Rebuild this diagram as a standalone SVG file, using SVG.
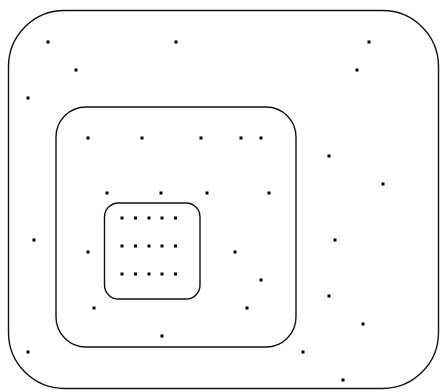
<svg xmlns="http://www.w3.org/2000/svg" width="440" height="392" viewBox="0 0 440 392">
<style>
.r{fill:none;stroke:#111;stroke-width:1.4}
.d{fill:#000}
</style>
<defs><rect id="p" x="-1.5" y="-1.5" width="3" height="3" class="d"/></defs>
<rect x="0" y="0" width="440" height="392" fill="#fff"/>
<g id="regions">
<rect class="r" x="8.5" y="10.5" width="430" height="378" rx="56" ry="56"/>
<rect class="r" x="56" y="107" width="240" height="240" rx="30" ry="30"/>
<rect class="r" x="104.5" y="203" width="95.5" height="96" rx="14" ry="14"/>
</g>
<g id="dots">
<use href="#p" x="48" y="42"/><use href="#p" x="176" y="42"/><use href="#p" x="369" y="42"/>
<use href="#p" x="76" y="70"/><use href="#p" x="357" y="70"/>
<use href="#p" x="28" y="98"/>
<use href="#p" x="88" y="138"/><use href="#p" x="142" y="138"/><use href="#p" x="201" y="138"/><use href="#p" x="241" y="138"/><use href="#p" x="261" y="138"/>
<use href="#p" x="329" y="156"/><use href="#p" x="383" y="184"/>
<use href="#p" x="107" y="193"/><use href="#p" x="161" y="193"/><use href="#p" x="207" y="193"/><use href="#p" x="269" y="193"/>
<use href="#p" x="122" y="218"/><use href="#p" x="135.5" y="218"/><use href="#p" x="149" y="218"/><use href="#p" x="162" y="218"/><use href="#p" x="175.5" y="218"/>
<use href="#p" x="122" y="246"/><use href="#p" x="135.5" y="246"/><use href="#p" x="149" y="246"/><use href="#p" x="162" y="246"/><use href="#p" x="175.5" y="246"/>
<use href="#p" x="122" y="274"/><use href="#p" x="135.5" y="274"/><use href="#p" x="149" y="274"/><use href="#p" x="162" y="274"/><use href="#p" x="175.5" y="274"/>
<use href="#p" x="34" y="240"/><use href="#p" x="335" y="240"/>
<use href="#p" x="88" y="252"/><use href="#p" x="235" y="252"/>
<use href="#p" x="261" y="280"/>
<use href="#p" x="329" y="296"/>
<use href="#p" x="94" y="308"/><use href="#p" x="247" y="308"/>
<use href="#p" x="363" y="324"/>
<use href="#p" x="162" y="336"/>
<use href="#p" x="28" y="352"/><use href="#p" x="303" y="352"/>
<use href="#p" x="343" y="380"/>
</g>
</svg>
